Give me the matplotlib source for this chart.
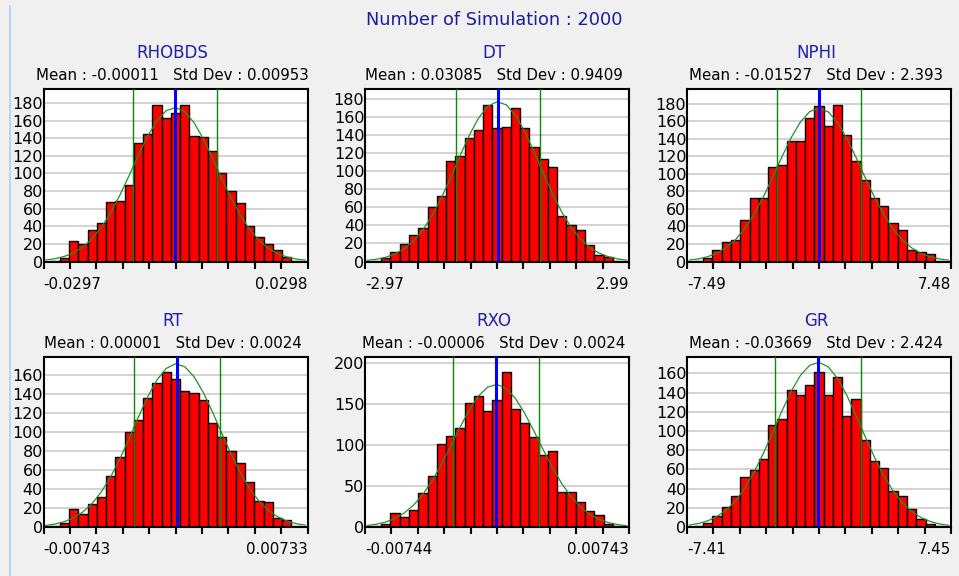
import numpy as np
import matplotlib
matplotlib.use('Agg')
import matplotlib.pyplot as plt
from matplotlib.lines import Line2D

plt.rcParams['font.family'] = ['DejaVu Sans']

n_sim = 2000

names = ['RHOBDS', 'DT', 'NPHI', 'RT', 'RXO', 'GR']
means = [-0.00011, 0.03085, -0.01527, 0.00001, -0.00006, -0.03669]
stds = [0.00953, 0.9409, 2.393, 0.0024, 0.0024, 2.424]
mean_labels = ['-0.00011', '0.03085', '-0.01527', '0.00001', '-0.00006', '-0.03669']
std_labels = ['0.00953', '0.9409', '2.393', '0.0024', '0.0024', '2.424']
x_min = [-0.0297, -2.97, -7.49, -0.00743, -0.00744, -7.41]
x_max = [0.0298, 2.99, 7.48, 0.00733, 0.00743, 7.45]
x_min_labels = ['-0.0297', '-2.97', '-7.49', '-0.00743', '-0.00744', '-7.41']
x_max_labels = ['0.0298', '2.99', '7.48', '0.00733', '0.00743', '7.45']
y_steps = [20, 20, 20, 20, 50, 20]

# Haeufigkeiten pro Klasse (29 Klassen je Parameter)
counts_rhobds = [0, 1, 4, 23, 20, 36, 44, 67, 69, 87, 134, 145, 178, 163, 168, 178,
                 143, 141, 125, 100, 80, 66, 40, 28, 20, 13, 5, 1, 0]
counts_dt = [0, 1, 4, 11, 19, 29, 37, 61, 73, 112, 117, 137, 146, 174, 148, 149,
             170, 148, 127, 114, 105, 50, 40, 35, 18, 7, 5, 1, 0]
counts_nphi = [0, 1, 4, 13, 22, 25, 47, 72, 72, 108, 110, 137, 137, 164, 178, 155,
               179, 144, 115, 93, 72, 63, 44, 36, 13, 11, 8, 1, 0]
counts_rt = [0, 1, 4, 19, 14, 24, 32, 54, 74, 100, 113, 136, 152, 163, 156, 143,
             141, 134, 110, 95, 80, 68, 47, 27, 26, 9, 7, 1, 0]
counts_rxo = [0, 1, 4, 17, 12, 21, 41, 62, 101, 111, 120, 151, 159, 141, 155, 188,
              143, 126, 110, 87, 93, 43, 43, 31, 19, 15, 4, 1, 0]
counts_gr = [0, 1, 4, 11, 21, 32, 52, 59, 71, 106, 113, 143, 138, 148, 161, 138,
             156, 116, 133, 91, 69, 61, 37, 32, 19, 8, 3, 1, 0]
counts = [counts_rhobds, counts_dt, counts_nphi, counts_rt, counts_rxo, counts_gr]

W, H = 959, 576
fig = plt.figure(figsize=(W / 100, H / 100), dpi=100, facecolor='#f0f0f0')

# Rahmen links
fig.add_artist(Line2D([9.5 / W, 9.5 / W], [0, 1 - 6 / H], color='#b4cfe8', lw=1.2))

fig.text(494 / W, 1 - 20 / H, 'Number of Simulation : ' + str(n_sim),
         ha='center', va='center', fontsize=12.8, color='#1e1e9a')

# Achsenpositionen in Pixel: links, oben, breite, unten
lefts = [43.5, 365, 687]
rows = [(89, 261.5), (357, 527)]
ax_w = 264

for i in range(6):
    top, bottom = rows[i // 3]
    left = lefts[i % 3]
    ax = fig.add_axes([left / W, 1 - bottom / H, ax_w / W, (bottom - top) / H])
    ax.set_facecolor('white')

    lo, hi = x_min[i], x_max[i]
    cnt = np.array(counts[i])
    w = (hi - lo) / 28.5
    edges = lo - w / 4 + w * np.arange(len(cnt) + 1)
    centers = (edges[:-1] + edges[1:]) / 2

    ax.bar(edges[:-1], cnt, width=w, align='edge', color='#ff0000',
           edgecolor='black', linewidth=1.0, zorder=2)

    # Normalverteilung ueber die Klassenmitten
    pdf = np.exp(-0.5 * ((centers - means[i]) / stds[i]) ** 2) / (stds[i] * np.sqrt(2 * np.pi))
    ax.plot(centers, n_sim * w * pdf, color='#239023', lw=0.9, zorder=3)

    ax.axvline(means[i] - stds[i], color='#0a8a0a', lw=1.0, zorder=3)
    ax.axvline(means[i] + stds[i], color='#0a8a0a', lw=1.0, zorder=3)
    ax.axvline(means[i], color='#0000ff', lw=2.2, zorder=4)

    ymax = cnt.max() * 1.1
    ax.set_xlim(lo, hi)
    ax.set_ylim(0, ymax)
    ax.set_yticks(np.arange(0, ymax, y_steps[i]))
    ax.tick_params(axis='y', length=0, pad=0.5, labelsize=11.5)
    ax.yaxis.grid(True, color='#c8c8c8', lw=1.1)
    ax.set_axisbelow(True)

    ticks = np.linspace(lo, hi, 11)
    labels = [''] * 11
    labels[0] = x_min_labels[i]
    labels[-1] = x_max_labels[i]
    ax.set_xticks(ticks)
    ax.set_xticklabels(labels)
    ax.tick_params(axis='x', direction='out', length=5, width=1.5, pad=6, labelsize=10.8)
    ax.get_xticklabels()[0].set_ha('left')
    ax.get_xticklabels()[-1].set_ha('right')

    for sp in ax.spines.values():
        sp.set_linewidth(1.5)
        sp.set_color('black')

    cx = (left + ax_w / 2 - 3) / W
    fig.text(cx, 1 - (top - 36) / H, names[i], ha='center', va='center',
             fontsize=12, color='#2020a8')
    fig.text(cx, 1 - (top - 13) / H,
             'Mean : ' + mean_labels[i] + '   Std Dev : ' + std_labels[i],
             ha='center', va='center', fontsize=10.8, color='black')

fig.savefig('out.png', dpi=100, facecolor=fig.get_facecolor())
